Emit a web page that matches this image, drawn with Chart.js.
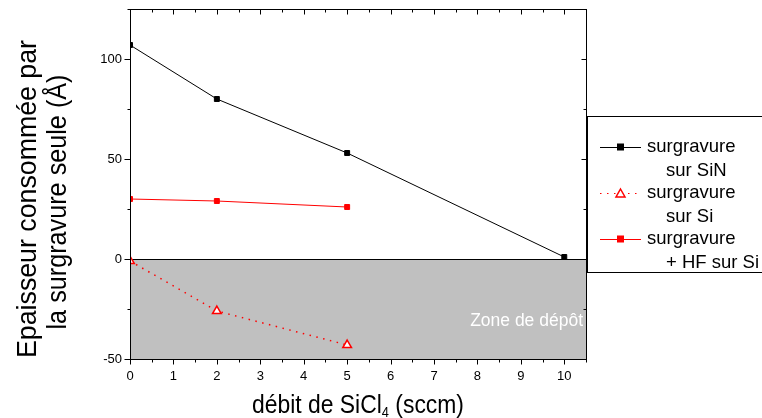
<!DOCTYPE html>
<html>
<head>
<meta charset="utf-8">
<script src="https://cdn.jsdelivr.net/npm/chart.js@4/dist/chart.umd.min.js"></script>
<style>
  html, body { margin: 0; padding: 0; background: #fff; }
  canvas { display: block; }
</style>
</head>
<body>
<canvas id="chart" width="762" height="418"></canvas>
<script>
// données
const debitSiN = [0, 2, 5, 10];
const surgravureSiN = [107, 80, 53, 1];
const debitSi = [0, 2, 5];
const surgravureSi = [-1, -26, -43];
const surgravureHF = [30, 29, 26];

const xTicks = [0, 1, 2, 3, 4, 5, 6, 7, 8, 9, 10];
const yTicks = [-50, 0, 50, 100];

const FONT = "'Liberation Sans', Arial, sans-serif";

function toPoints(xs, ys) {
  return xs.map((x, i) => ({ x: x, y: ys[i] }));
}

// texte centré, étiré pour tenir dans une largeur donnée
function fitText(ctx, txt, cx, y, width) {
  const w = ctx.measureText(txt).width;
  ctx.save();
  ctx.translate(cx, y);
  ctx.scale(width / w, 1);
  ctx.textAlign = "center";
  ctx.fillText(txt, 0, 0);
  ctx.restore();
}

// zone grise, cadre, graduations, titres et légende
const decorPlugin = {
  id: "decor",
  beforeDatasetsDraw(chart) {
    const { ctx, chartArea: a, scales } = chart;
    const y0 = scales.y.getPixelForValue(0);
    ctx.save();
    ctx.fillStyle = "#c0c0c0";
    ctx.fillRect(a.left, y0, a.right - a.left, a.bottom - y0);
    ctx.strokeStyle = "#000";
    ctx.lineWidth = 1;
    ctx.beginPath();
    ctx.moveTo(a.left, Math.round(y0) + 0.5);
    ctx.lineTo(a.right, Math.round(y0) + 0.5);
    ctx.stroke();
    ctx.fillStyle = "#fff";
    ctx.font = "17.5px " + FONT;
    ctx.textAlign = "right";
    ctx.textBaseline = "middle";
    ctx.fillText("Zone de dépôt", a.right - 3, 321);
    ctx.restore();
  },
  afterDraw(chart) {
    const { ctx, chartArea: a, scales } = chart;
    ctx.save();
    ctx.strokeStyle = "#000";
    ctx.lineWidth = 1;
    const L = Math.round(a.left) + 0.5, R = Math.round(a.right) + 0.5;
    const T = Math.round(a.top) + 0.5, B = Math.round(a.bottom) + 0.5;
    ctx.strokeRect(L, T, R - L, B - T);

    ctx.beginPath();
    for (let v = 0; v <= 10.5; v += 0.5) {
      const px = Math.round(scales.x.getPixelForValue(v)) + 0.5;
      const major = v % 1 === 0;
      ctx.moveTo(px, B); ctx.lineTo(px, B + (major ? 5 : 3));
      ctx.moveTo(px, T); ctx.lineTo(px, T + (major ? 5 : 3));
    }
    for (let v = -50; v <= 125; v += 25) {
      const py = Math.round(scales.y.getPixelForValue(v)) + 0.5;
      const major = v % 50 === 0;
      ctx.moveTo(L, py); ctx.lineTo(L - (major ? 6 : 3), py);
      ctx.moveTo(R, py); ctx.lineTo(R - (major ? 5 : 3), py);
    }
    ctx.stroke();

    // titre axe x avec indice
    ctx.fillStyle = "#000";
    ctx.textBaseline = "alphabetic";
    ctx.textAlign = "left";
    const big = "25px " + FONT, small = "14px " + FONT;
    const p1 = "débit de SiCl", p2 = "4", p3 = " (sccm)";
    ctx.font = big; const w1 = ctx.measureText(p1).width, w3 = ctx.measureText(p3).width;
    ctx.font = small; const w2 = ctx.measureText(p2).width;
    const k = 212 / (w1 + w2 + w3);
    ctx.save();
    ctx.translate(252, 413);
    ctx.scale(k, 1);
    let x = 0;
    ctx.font = big; ctx.fillText(p1, x, 0); x += w1;
    ctx.font = small; ctx.fillText(p2, x, 4); x += w2;
    ctx.font = big; ctx.fillText(p3, x, 0);
    ctx.restore();

    // titre axe y
    ctx.save();
    ctx.rotate(-Math.PI / 2);
    ctx.font = "27px " + FONT;
    ctx.textBaseline = "alphabetic";
    fitText(ctx, "Epaisseur consommée par", -199, 36, 318);
    fitText(ctx, "la surgravure seule (Å)", -202, 66, 255);
    ctx.restore();

    // légende
    ctx.fillStyle = "#fff";
    ctx.fillRect(587, 116, 180, 156);
    ctx.strokeStyle = "#000";
    ctx.strokeRect(587.5, 116.5, 180, 156);
    const entries = chart.data.datasets.map((ds, i) => ({ ds: ds, y: 147 + i * 46 }));
    ctx.font = "18.5px " + FONT;
    ctx.textBaseline = "middle";
    ctx.textAlign = "left";
    entries.forEach((e) => {
      const ds = e.ds;
      ctx.strokeStyle = ds.borderColor;
      ctx.lineWidth = 1;
      ctx.setLineDash(ds.borderDash || []);
      ctx.beginPath();
      ctx.moveTo(600, e.y + 0.5); ctx.lineTo(641, e.y + 0.5);
      ctx.stroke();
      ctx.setLineDash([]);
      ctx.fillStyle = ds.pointBackgroundColor;
      ctx.strokeStyle = ds.pointBorderColor;
      ctx.lineWidth = ds.pointBorderWidth;
      if (ds.pointStyle === "triangle") {
        ctx.beginPath();
        ctx.moveTo(620.5, e.y - 4); ctx.lineTo(625, e.y + 4); ctx.lineTo(616, e.y + 4);
        ctx.closePath(); ctx.fill(); ctx.stroke();
      } else {
        ctx.fillRect(617, e.y - 3.5, 7, 7);
      }
      ctx.fillStyle = "#000";
      ctx.fillText(ds.label[0], 647, e.y);
      ctx.fillText(ds.label[1], 666, e.y + 24);
    });
    ctx.restore();
  },
};

new Chart(document.getElementById("chart"), {
  type: "line",
  data: {
    datasets: [
      {
        label: ["surgravure", "sur SiN"],
        data: toPoints(debitSiN, surgravureSiN),
        borderColor: "#000",
        borderWidth: 1,
        pointStyle: "rect",
        pointRadius: 3.5,
        pointBackgroundColor: "#000",
        pointBorderColor: "#000",
        pointBorderWidth: 1,
      },
      {
        label: ["surgravure", "sur Si"],
        data: toPoints(debitSi, surgravureSi),
        borderColor: "#ff0000",
        borderWidth: 1.5,
        borderDash: [1.5, 5.5],
        pointStyle: "triangle",
        pointRadius: 5,
        pointBackgroundColor: "#fff",
        pointBorderColor: "#ff0000",
        pointBorderWidth: 1.5,
      },
      {
        label: ["surgravure", "+ HF sur Si"],
        data: toPoints(debitSi, surgravureHF),
        borderColor: "#ff0000",
        borderWidth: 1,
        pointStyle: "rect",
        pointRadius: 3.5,
        pointBackgroundColor: "#ff0000",
        pointBorderColor: "#ff0000",
        pointBorderWidth: 1,
      },
    ],
  },
  options: {
    responsive: false,
    animation: false,
    devicePixelRatio: 1,
    layout: { padding: { left: 0, top: 9, right: 176, bottom: 0 } },
    plugins: { legend: { display: false }, tooltip: { enabled: false } },
    scales: {
      x: {
        type: "linear",
        min: 0,
        max: 10.5,
        grid: { display: false, drawTicks: false },
        border: { display: false },
        afterFit: (s) => { s.height = 59; s.paddingLeft = 0; s.paddingRight = 0; },
        afterBuildTicks: (s) => { s.ticks = xTicks.map((v) => ({ value: v })); },
        ticks: {
          padding: 10,
          maxRotation: 0,
          autoSkip: false,
          color: "#000",
          font: { family: FONT, size: 13 },
        },
      },
      y: {
        type: "linear",
        min: -50,
        max: 125,
        grid: { display: false, drawTicks: false },
        border: { display: false },
        afterFit: (s) => { s.width = 130; s.paddingTop = 0; s.paddingBottom = 0; },
        afterBuildTicks: (s) => { s.ticks = yTicks.map((v) => ({ value: v })); },
        ticks: {
          padding: 8,
          color: "#000",
          font: { family: FONT, size: 13 },
        },
      },
    },
  },
  plugins: [decorPlugin],
});
</script>
</body>
</html>
